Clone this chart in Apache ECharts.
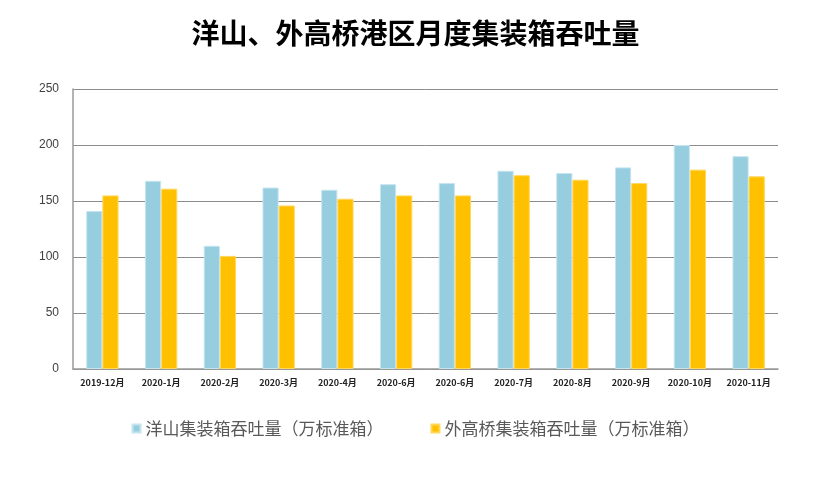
<!DOCTYPE html>
<html>
<head>
<meta charset="utf-8">
<script src="https://cdn.jsdelivr.net/npm/echarts@6/dist/echarts.min.js"></script>
<style>
html,body{margin:0;padding:0;background:#fff;}
#c{width:831px;height:489px;}
</style>
</head>
<body>
<div id="c"></div>
<script>
const titleText = '洋山、外高桥港区月度集装箱吞吐量';
const categories = ['2019-12月','2020-1月','2020-2月','2020-3月','2020-4月','2020-6月','2020-6月','2020-7月','2020-8月','2020-9月','2020-10月','2020-11月'];
const yangshanName = '洋山集装箱吞吐量（万标准箱）';
const waigaoqiaoName = '外高桥集装箱吞吐量（万标准箱）';
const yangshan = [141, 168, 110, 162, 160, 165, 166, 177, 175, 180, 200, 190];
const waigaoqiao = [155, 161, 101, 146, 152, 155, 155, 173, 169, 166, 178, 172];
const yTicks = [0, 50, 100, 150, 200, 250];

const chart = echarts.init(document.getElementById('c'));
chart.setOption({
  backgroundColor: '#fff',
  animation: false,
  title: {
    text: titleText,
    left: 'center',
    top: 14,
    textStyle: {fontSize: 28, fontWeight: 'bold', color: '#000', fontFamily: '"Noto Sans CJK SC", serif'}
  },
  legend: {
    data: [yangshanName, waigaoqiaoName],
    top: 415,
    left: 'center',
    itemWidth: 8,
    itemHeight: 8,
    itemGap: 47,
    icon: 'rect',
    textStyle: {fontSize: 17, color: '#595959', fontFamily: '"Noto Sans CJK SC", sans-serif'}
  },
  grid: {left: 73, right: 53, top: 89, bottom: 120, containLabel: false},
  xAxis: {
    type: 'category',
    data: categories,
    axisLine: {show: true, lineStyle: {color: '#9a9a9a', width: 1.5}},
    axisTick: {show: false},
    axisLabel: {interval: 0, fontSize: 9, fontWeight: 'bold', color: '#222', margin: 9, fontFamily: '"Noto Sans CJK SC", sans-serif'}
  },
  yAxis: {
    type: 'value',
    min: yTicks[0],
    max: yTicks[yTicks.length - 1],
    interval: 50,
    axisLine: {show: true, lineStyle: {color: '#9a9a9a', width: 1.5}},
    axisTick: {show: false},
    splitLine: {lineStyle: {color: '#8c8c8c', width: 1}},
    axisLabel: {fontSize: 12, color: '#404040', margin: 14, fontFamily: 'Liberation Sans, Arial, sans-serif'}
  },
  series: [
    {
      name: yangshanName,
      type: 'bar',
      data: yangshan,
      barGap: '0%',
      barCategoryGap: '45%',
      itemStyle: {color: '#96cddf', borderColor: '#c4e4ee', borderWidth: 1}
    },
    {
      name: waigaoqiaoName,
      type: 'bar',
      data: waigaoqiao,
      itemStyle: {color: '#ffc000', borderColor: '#ffd75a', borderWidth: 1}
    }
  ]
});
</script>
</body>
</html>
